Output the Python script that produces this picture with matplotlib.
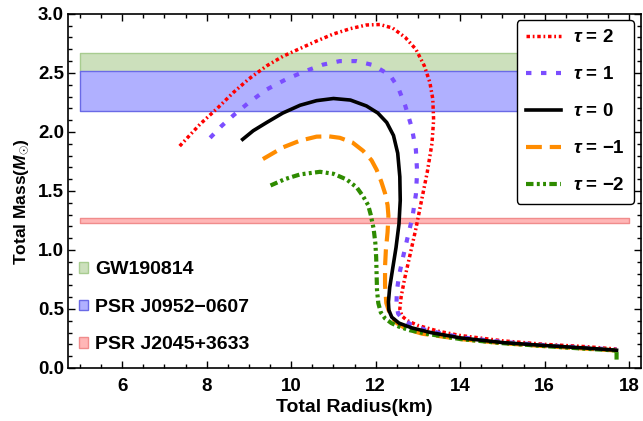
import numpy as np
import matplotlib
matplotlib.use("Agg")
import matplotlib.pyplot as plt
from matplotlib.ticker import MultipleLocator

plt.rcParams["font.family"] = ["Liberation Sans", "DejaVu Sans"]
plt.rcParams["font.weight"] = "bold"
plt.rcParams["mathtext.fontset"] = "custom"
plt.rcParams["mathtext.it"] = "Liberation Sans:italic:bold"
plt.rcParams["mathtext.rm"] = "Liberation Sans:bold"
plt.rcParams["mathtext.bf"] = "Liberation Sans:bold"

# mass-radius curves
R_tau2 = [7.36, 7.84, 8.25, 8.63, 9.0, 9.42, 9.8, 10.21, 10.6, 11.0, 11.4, 11.78, 12.1, 12.4,
          12.7, 12.95, 13.15, 13.28, 13.35, 13.37, 13.33, 13.22, 13.09, 12.95, 12.8, 12.68,
          12.6, 12.57, 12.62, 12.75, 13.0, 13.5, 14.0, 15.0, 16.0, 17.0, 17.7]
M_tau2 = [1.88, 2.065, 2.2, 2.334, 2.45, 2.56, 2.64, 2.707, 2.77, 2.83, 2.875, 2.906, 2.91, 2.88,
          2.8, 2.7, 2.56, 2.42, 2.28, 2.1, 1.9, 1.66, 1.43, 1.18, 0.94, 0.75,
          0.6, 0.5, 0.44, 0.4, 0.36, 0.31, 0.275, 0.23, 0.2, 0.18, 0.16]

R_tau1 = [8.08, 8.35, 8.63, 9.0, 9.42, 9.9, 10.37, 10.75, 11.15, 11.55, 11.94, 12.34, 12.53,
          12.7, 12.85, 12.95, 12.98, 12.95, 12.87, 12.75, 12.64, 12.55, 12.5, 12.49, 12.53,
          12.65, 12.85, 13.2, 14.0, 15.0, 16.0, 17.0, 17.7]
M_tau1 = [1.95, 2.05, 2.14, 2.25, 2.36, 2.45, 2.52, 2.57, 2.6, 2.6, 2.566, 2.48, 2.376,
          2.22, 2.04, 1.85, 1.66, 1.47, 1.28, 1.1, 0.93, 0.78, 0.65, 0.54, 0.46,
          0.41, 0.365, 0.32, 0.26, 0.22, 0.193, 0.17, 0.155]

R_tau0 = [8.85, 9.1, 9.42, 9.8, 10.21, 10.6, 11.0, 11.4, 11.78, 12.05, 12.26, 12.42, 12.52,
          12.57, 12.58, 12.55, 12.48, 12.4, 12.33, 12.3, 12.31, 12.38, 12.55, 12.85, 13.3,
          14.0, 15.0, 16.0, 17.0, 17.7]
M_tau0 = [1.937, 2.01, 2.08, 2.16, 2.226, 2.265, 2.283, 2.27, 2.22, 2.16, 2.08, 1.97, 1.82,
          1.62, 1.42, 1.22, 1.02, 0.84, 0.68, 0.56, 0.49, 0.43, 0.38, 0.34, 0.3,
          0.255, 0.215, 0.19, 0.168, 0.15]

R_taum1 = [9.33, 9.81, 10.2, 10.6, 10.9, 11.15, 11.45, 11.7, 11.9, 12.02, 12.13, 12.22, 12.28,
           12.3, 12.28, 12.24, 12.22, 12.22, 12.25, 12.34, 12.5, 12.73, 13.1, 14.0, 15.0,
           16.0, 17.0, 17.7]
M_taum1 = [1.77, 1.87, 1.925, 1.96, 1.962, 1.95, 1.91, 1.84, 1.76, 1.68, 1.58, 1.48, 1.38,
           1.29, 1.15, 1.0, 0.86, 0.7, 0.55, 0.45, 0.38, 0.33, 0.29, 0.245, 0.21,
           0.185, 0.163, 0.148]

R_taum2 = [9.51, 9.85, 10.21, 10.68, 11.0, 11.31, 11.55, 11.7, 11.82, 11.88, 11.95, 11.99,
           12.01, 12.02, 12.03, 12.06, 12.12, 12.22, 12.37, 12.55, 12.8, 13.2, 14.0, 15.0,
           16.0, 17.0, 17.7, 17.7]
M_taum2 = [1.546, 1.6, 1.64, 1.662, 1.645, 1.597, 1.53, 1.455, 1.38, 1.30, 1.18, 1.06,
           0.94, 0.8, 0.66, 0.55, 0.47, 0.42, 0.38, 0.35, 0.32, 0.29, 0.245, 0.21,
           0.185, 0.162, 0.148, 0.068]

# observational mass bands (low, high)
band_names = ["GW190814", "PSR J0952\u22120607", "PSR J2045+3633"]
band_low = [2.51, 2.18, 1.23]
band_high = [2.67, 2.52, 1.272]
band_x = [5.0, 18.0]

fig = plt.figure(figsize=(6.43, 4.21), dpi=100)
ax = fig.add_axes([0.106, 0.126, 0.891, 0.841])

band_fill = ["#cce0bc", "#b0b0ff", "#ffb6b6"]
band_edge = ["#a8cc90", "#6a6ae6", "#f08c8c"]
band_handles = []
for lo, hi, fc, ec, name in zip(band_low, band_high, band_fill, band_edge, band_names):
    h = ax.fill_between(band_x, [lo, lo], [hi, hi], facecolor=fc, edgecolor=ec,
                        linewidth=1.0, label=name, zorder=1)
    band_handles.append(h)

l2, = ax.plot(R_tau2, M_tau2, color="#ff0000", lw=2.5, dashes=(1.0, 0.8, 0.5, 0.8),
              label=r"$\tau$ = 2", zorder=3)
l1, = ax.plot(R_tau1, M_tau1, color="#7b4dff", lw=3.0, dashes=(1.3, 2.3),
              label=r"$\tau$ = 1", zorder=3)
l0, = ax.plot(R_tau0, M_tau0, color="black", lw=2.6, label=r"$\tau$ = 0", zorder=4)
lm1, = ax.plot(R_taum1, M_taum1, color="#ff8c00", lw=3.0, dashes=(3.8, 1.9),
               label="$\\tau$ = \u22121", zorder=3)
lm2, = ax.plot(R_taum2, M_taum2, color="#2e8b00", lw=3.0, dashes=(1.8, 0.8, 0.7, 0.8, 0.7, 0.8),
               label="$\\tau$ = \u22122", zorder=3)

ax.set_xlim(4.72, 18.28)
ax.set_ylim(0, 3.0)
ax.xaxis.set_major_locator(MultipleLocator(2))
ax.xaxis.set_minor_locator(MultipleLocator(0.5))
ax.yaxis.set_major_locator(MultipleLocator(0.5))
ax.yaxis.set_minor_locator(MultipleLocator(0.1))
ax.tick_params(which="both", direction="in", top=True, right=True, width=1.0)
ax.tick_params(which="major", length=5, labelsize=13.5)
ax.tick_params(axis="y", which="major", pad=3)
ax.tick_params(axis="x", which="major", pad=7)
ax.tick_params(which="minor", length=2.8)
for lab in ax.get_xticklabels() + ax.get_yticklabels():
    lab.set_fontweight("bold")
for s in ax.spines.values():
    s.set_linewidth(1.2)

ax.set_xlabel("Total Radius(km)", fontsize=14, fontweight="bold", labelpad=3)
ax.set_ylabel(r"Total Mass($M_{\odot}$)", fontsize=12.5, fontweight="bold")
ax.yaxis.set_label_coords(-0.064, 0.47)

leg1 = ax.legend(handles=[l2, l1, l0, lm1, lm2], loc="upper right",
                 bbox_to_anchor=(0.988, 0.983), borderaxespad=0, fontsize=13.5,
                 handlelength=1.87, labelspacing=1.06, borderpad=0.5, handletextpad=0.64,
                 frameon=True, fancybox=True, framealpha=1, edgecolor="black")
leg1.get_frame().set_linewidth(1.0)
for t in leg1.get_texts():
    t.set_fontweight("bold")
ax.add_artist(leg1)

leg2 = ax.legend(handles=band_handles, loc="lower left", bbox_to_anchor=(0.019, 0.041),
                 borderaxespad=0, fontsize=14, handlelength=0.45, handleheight=0.45,
                 labelspacing=1.06, handletextpad=0.36, borderpad=0, frameon=False)
for t in leg2.get_texts():
    t.set_fontweight("bold")

fig.savefig("out.png", dpi=100)
